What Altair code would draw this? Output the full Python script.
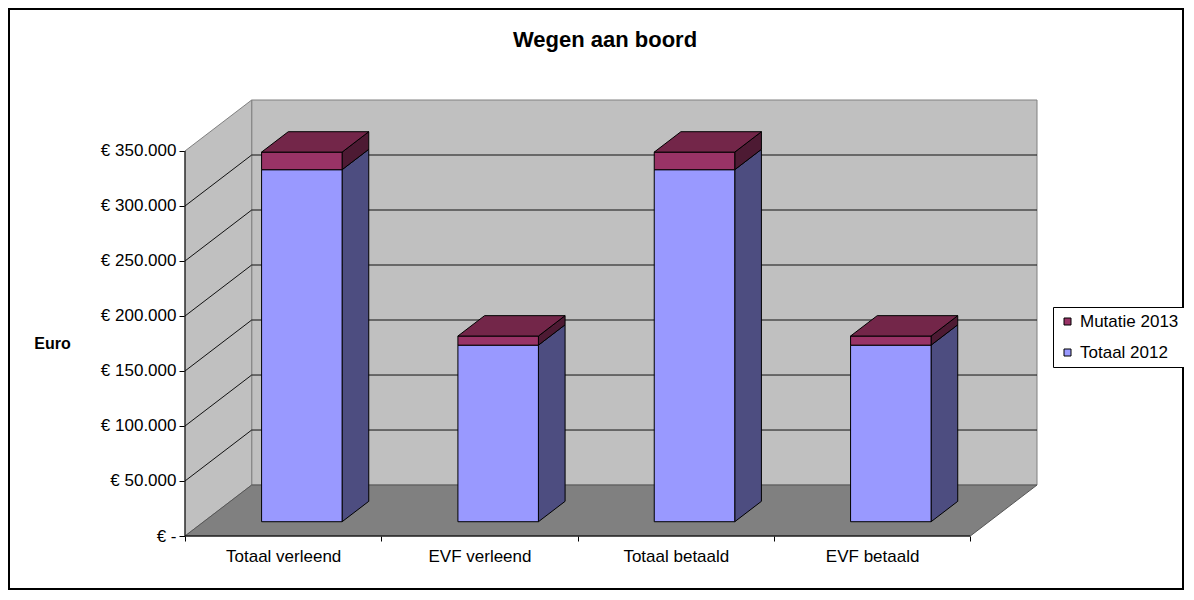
import altair as alt
import pandas as pd

# ---------------- data ----------------
categories = ["Totaal verleend", "EVF verleend", "Totaal betaald", "EVF betaald"]
totaal_2012 = [320000, 160500, 320000, 160500]
mutatie_2013 = [16000, 8300, 16000, 8300]
series_names = ["Mutatie 2013", "Totaal 2012"]
y_ticks = [0, 50000, 100000, 150000, 200000, 250000, 300000, 350000]

# ---------------- style / layout ----------------
series_front = ["#993366", "#9999FF"]
series_side = {"Totaal 2012": "#4D4D80", "Mutatie 2013": "#4D1A33"}
top_color = "#732649"
FONT = "Liberation Sans"

W, H = 852, 436
PAD_L, PAD_T, PAD_R, PAD_B = 177, 92, 147, 54
VMAX = y_ticks[-1]
N = len(categories)
DX = 0.3397      # depth shift (category units) for full depth
DV = 46339       # depth shift (value units) for full depth
D0, D1 = 0.28, 0.68   # bar front / back depth
HW = 0.205            # bar half width

# ---------------- geometry from data ----------------
front_rows, side_rows, top_rows = [], [], []
for i, cat in enumerate(categories):
    xl, xr = i + 0.5 - HW, i + 0.5 + HW
    stack = [("Totaal 2012", 0, totaal_2012[i]),
             ("Mutatie 2013", totaal_2012[i], totaal_2012[i] + mutatie_2013[i])]
    for s, b, t in stack:
        key = f"{cat}|{s}"
        front_rows.append(dict(key=key, series=s, x=xl + D0 * DX, x2=xr + D0 * DX,
                               y=b + D0 * DV, y2=t + D0 * DV))
        for d in (D0, D1):
            side_rows.append(dict(key=key, c=series_side[s], x=xr + d * DX,
                                  y=t + d * DV, y2=b + d * DV))
    s, b, t = stack[-1]
    for d in (D0, D1):
        top_rows.append(dict(key=cat, x=xl + d * DX, x2=xr + d * DX, y=t + d * DV))

front_df = pd.DataFrame(front_rows)
side_df = pd.DataFrame(side_rows)
top_df = pd.DataFrame(top_rows)

side_wall = pd.DataFrame([dict(x=d * DX, y=VMAX + d * DV, y2=d * DV) for d in (0, 1)])
floor_df = pd.DataFrame([dict(y=d * DV, x=d * DX, x2=N + d * DX) for d in (0, 1)])
back_wall = pd.DataFrame([dict(x=DX, x2=N + DX, y=DV, y2=VMAX + DV)])
grid_vals = y_ticks[1:-1]
back_grid = pd.DataFrame([dict(x=DX, x2=N + DX, y=v + DV, y2=v + DV) for v in grid_vals])
side_grid = pd.DataFrame([dict(x=0, x2=DX, y=v, y2=v + DV) for v in grid_vals])
axis_line = pd.DataFrame([dict(x=0, x2=0, y=0, y2=VMAX)])
floor_front = pd.DataFrame([dict(x=0, x2=N, y=0, y2=0)])
one = pd.DataFrame({"a": [0]})

# ---------------- scales / axes ----------------
cats_js = "[" + ",".join(f"'{c}'" for c in categories) + "]"
xs = alt.Scale(domain=[0, N + DX], nice=False, zero=False, padding=0)
ys = alt.Scale(domain=[0, VMAX + DV], nice=False, zero=False)
x_axis = alt.Axis(
    values=[k / 2 for k in range(2 * N + 1)],
    labelExpr=f"datum.value % 1 == 0 ? '' : {cats_js}[floor(datum.value)]",
    tickOpacity={"condition": {"test": "datum.value % 1 != 0", "value": 0}, "value": 1},
    tickSize=5, tickColor="black", labelPadding=7, labelFontSize=17, labelColor="black",
    labelFont=FONT, labelOverlap=False, labelFlush=False, domain=False, grid=False, title=None,
)
y_axis = alt.Axis(
    values=y_ticks,
    labelExpr="datum.value == 0 ? '€ -' : '€ ' + format(datum.value / 1000, 'd') + '.000'",
    tickSize=6, tickColor="black", labelPadding=3, labelFontSize=17, labelColor="black",
    labelFont=FONT, labelOverlap=False, domain=False, grid=False,
    title="Euro", titleAngle=0, titleFontSize=16, titleFontWeight="bold", titleColor="black",
    titleFont=FONT, titleX=-133, titleY=243, titleAlign="center", titleBaseline="middle",
)


def X(f="x"):
    return alt.X(f"{f}:Q", scale=xs, axis=x_axis, stack=None)


def Y(f="y"):
    return alt.Y(f"{f}:Q", scale=ys, axis=y_axis, stack=None)


# ---------------- layers ----------------
back = alt.Chart(back_wall).mark_rect(fill="#C0C0C0", stroke="#808080", strokeWidth=1).encode(
    x=X(), x2=alt.X2("x2"), y=Y(), y2=alt.Y2("y2"))
sidewall = alt.Chart(side_wall).mark_area(orient="vertical", fill="#C0C0C0", stroke="#808080",
                                          strokeWidth=1).encode(x=X(), y=Y(), y2=alt.Y2("y2"))
floor = alt.Chart(floor_df).mark_area(orient="horizontal", fill="#808080", stroke="#555555",
                                      strokeWidth=1).encode(y=Y(), x=X(), x2=alt.X2("x2"))
bgrid = alt.Chart(back_grid).mark_rule(color="#111111", strokeWidth=1).encode(
    x=X(), x2=alt.X2("x2"), y=Y(), y2=alt.Y2("y2"))
sgrid = alt.Chart(side_grid).mark_rule(color="#111111", strokeWidth=1).encode(
    x=X(), x2=alt.X2("x2"), y=Y(), y2=alt.Y2("y2"))
aline = alt.Chart(axis_line).mark_rule(color="black", strokeWidth=1).encode(
    x=X(), x2=alt.X2("x2"), y=Y(), y2=alt.Y2("y2"))
fline = alt.Chart(floor_front).mark_rule(color="black", strokeWidth=1).encode(
    x=X(), x2=alt.X2("x2"), y=Y(), y2=alt.Y2("y2"))

sides = alt.Chart(side_df).mark_area(orient="vertical", stroke="black", strokeWidth=1).encode(
    x=X(), y=Y(), y2=alt.Y2("y2"), detail="key:N", color=alt.Color("c:N", scale=None))
fronts = alt.Chart(front_df).mark_rect(stroke="black", strokeWidth=1).encode(
    x=X(), x2=alt.X2("x2"), y=Y(), y2=alt.Y2("y2"),
    color=alt.Color("series:N", scale=alt.Scale(domain=series_names, range=series_front),
                    legend=alt.Legend(title=None, orient="none", legendX=868, legendY=207,
                                      padding=6, strokeColor="black", fillColor="white",
                                      symbolType="square", symbolSize=49,
                                      symbolStrokeColor="black", symbolStrokeWidth=1,
                                      symbolOpacity=1, labelFontSize=17, labelColor="black",
                                      labelFont=FONT, rowPadding=13, labelOffset=4)))
tops = alt.Chart(top_df).mark_area(orient="horizontal", fill=top_color, stroke="black",
                                   strokeWidth=1).encode(
    y=Y(), x=X(), x2=alt.X2("x2"), detail="key:N")

title = alt.Chart(one).mark_text(text="Wegen aan boord", fontSize=22, fontWeight="bold",
                                 font=FONT, baseline="alphabetic", align="center",
                                 color="black").encode(x=alt.value(420), y=alt.value(-53))
border = alt.Chart(one).mark_rect(fillOpacity=0, stroke="black", strokeWidth=2).encode(
    x=alt.value(-PAD_L + 1), x2=alt.value(W + PAD_R - 1),
    y=alt.value(-PAD_T + 1), y2=alt.value(H + PAD_B - 1))

chart = alt.layer(
    back, sidewall, floor, bgrid, sgrid, aline, fline, sides, fronts, tops, title, border
).properties(
    width=W, height=H,
    padding={"left": PAD_L, "top": PAD_T, "right": PAD_R, "bottom": PAD_B},
    autosize=alt.AutoSizeParams(type="none"),
).configure(font=FONT).configure_view(strokeWidth=0)

chart.save("out.html", embed_options={"renderer": "svg", "actions": False})
